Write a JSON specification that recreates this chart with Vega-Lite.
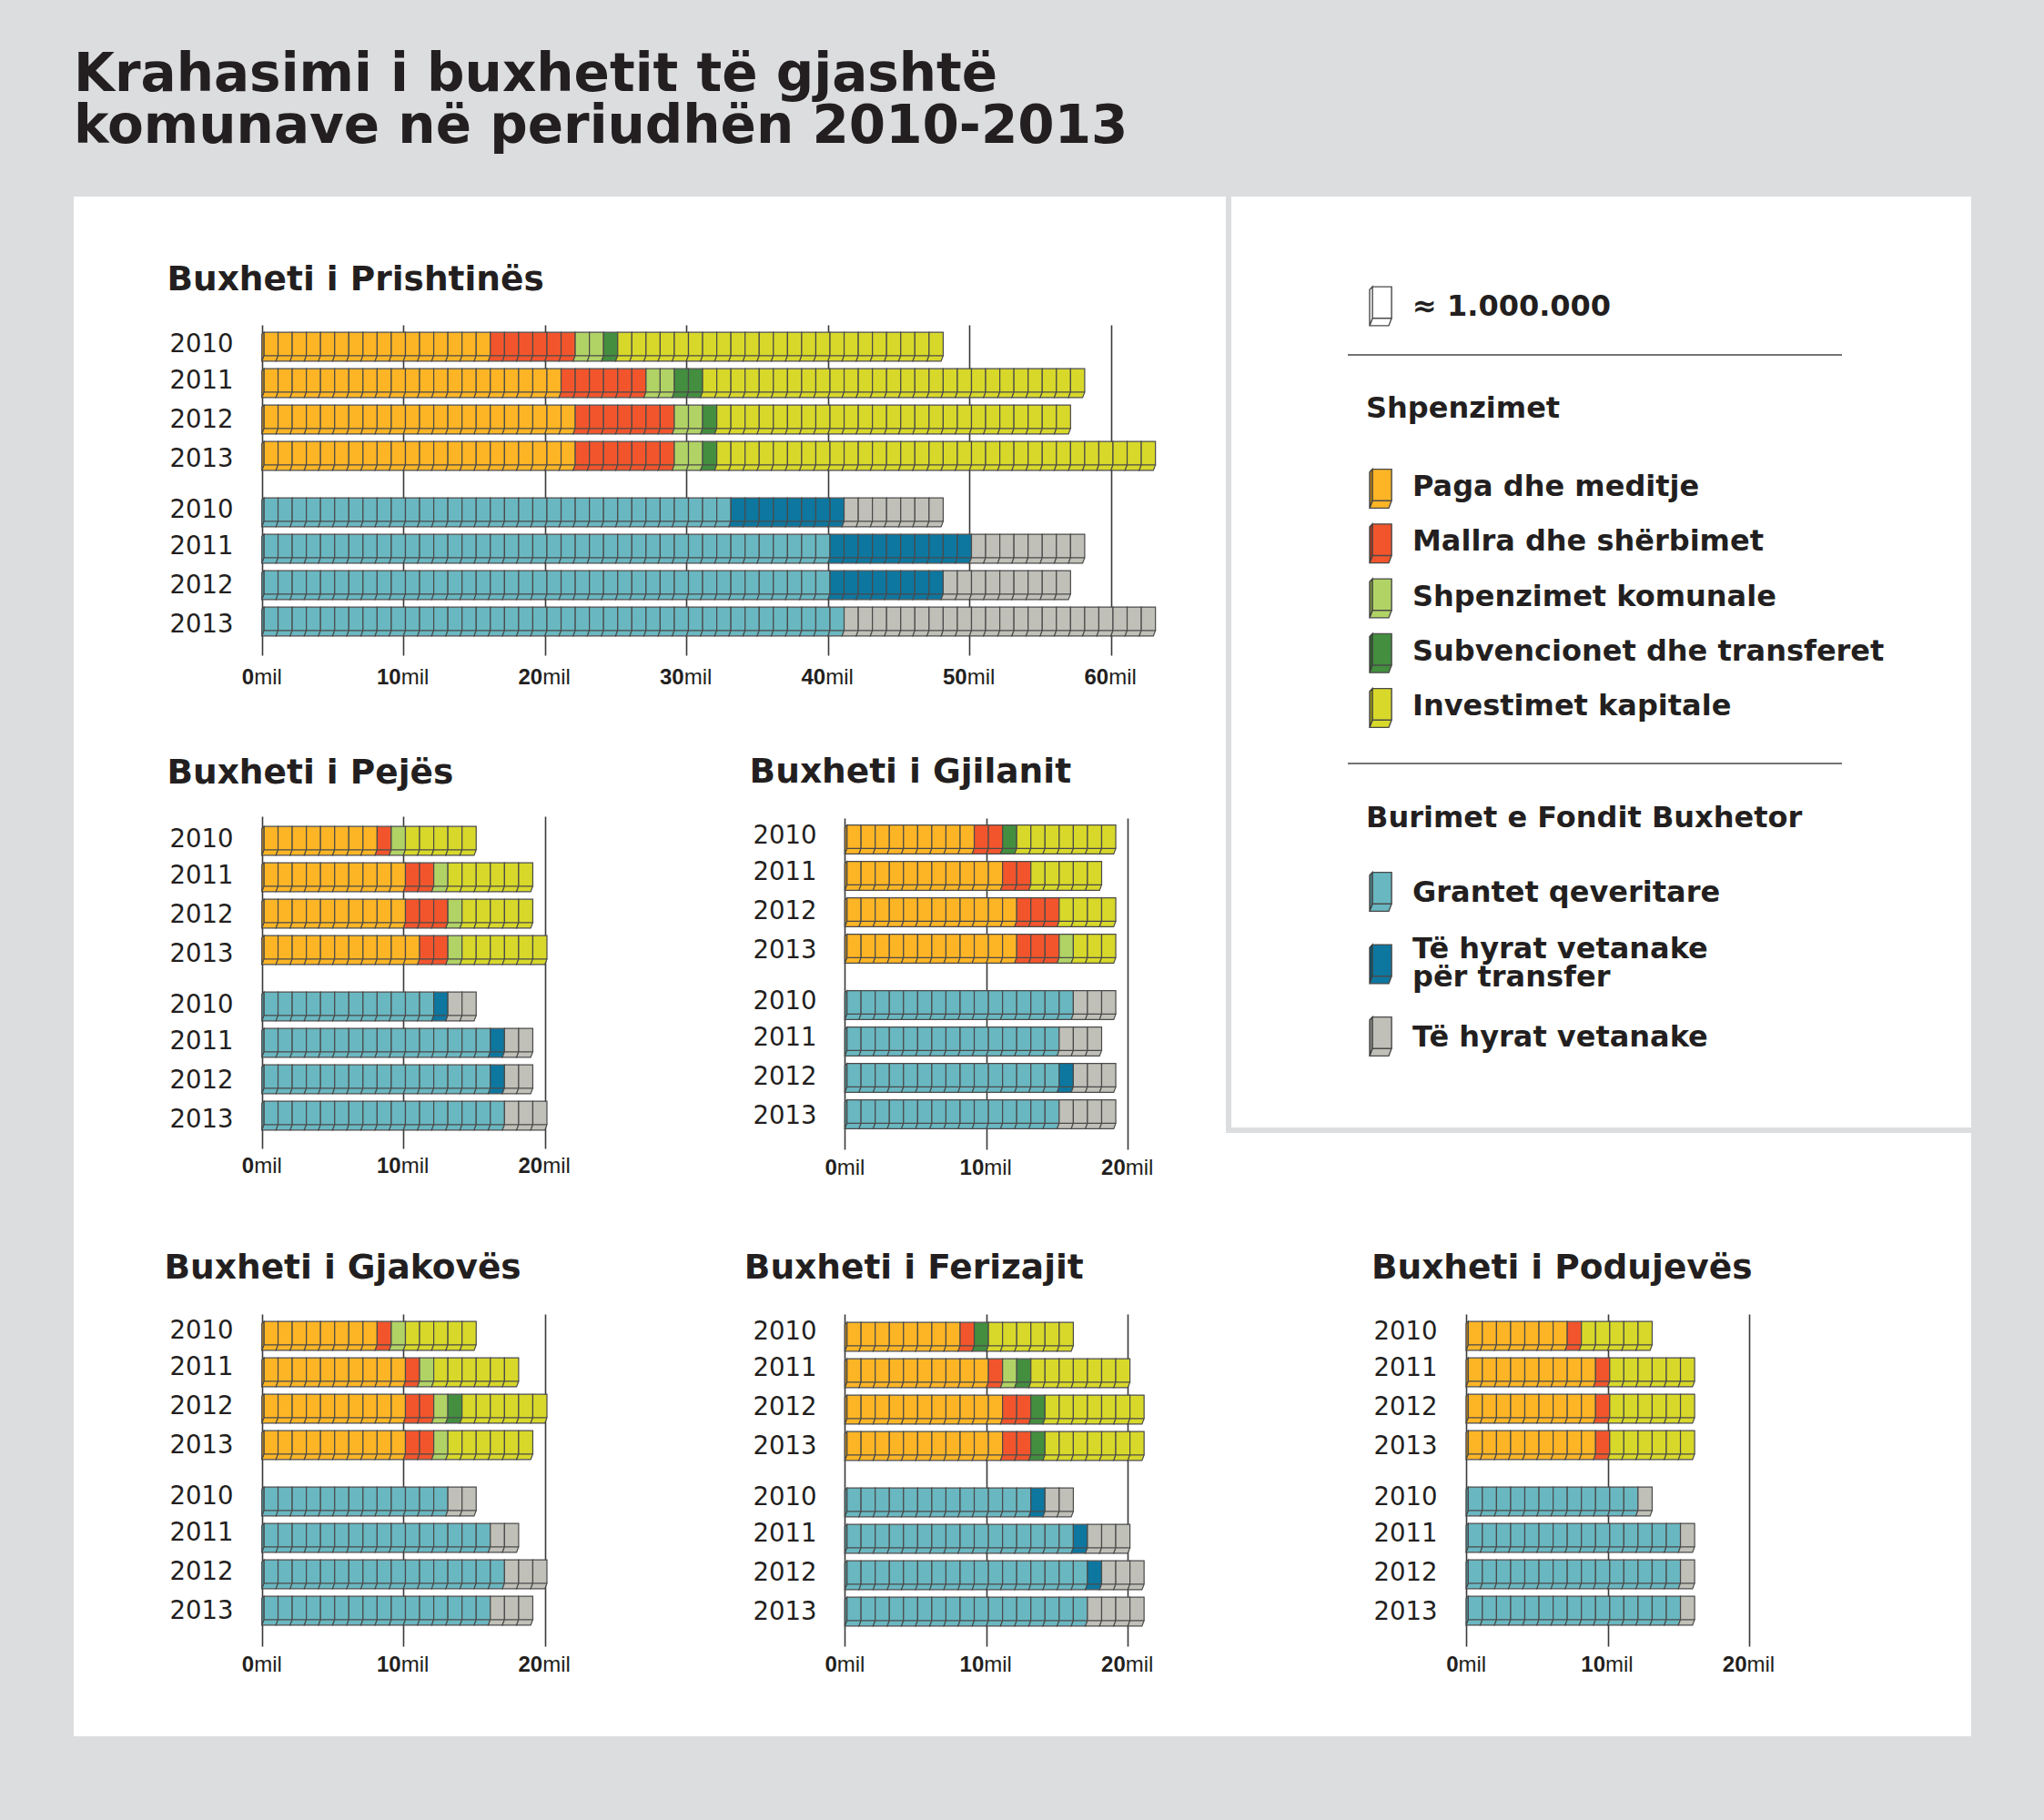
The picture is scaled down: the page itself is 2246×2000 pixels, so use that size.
{"$schema":"https://vega.github.io/schema/vega-lite/v6.json","background":"#DCDDDF","padding":{"left":81,"right":80,"top":0,"bottom":92},"config":{"concat":{"spacing":0},"view":{"stroke":null},"range":{"category":["#69B7C1","#D8D82A","#B1D365","#F2552C","#FDB525","#438E3F","#0D77A0","#C0C0B8"]},"axis":{"domain":false,"grid":false,"labelOverlap":false,"labelFlush":false,"labelBound":false},"axisX":{"labelFont":"Liberation Sans","labelFontSize":24,"labelColor":"#231F20","tickColor":"#3A3A3A","tickWidth":1.6,"labelOffset":{"condition":{"test":"datum.value==0","value":-9},"value":-3}},"axisY":{"ticks":false,"labelPadding":0,"labelFont":"DejaVu Sans","labelFontSize":27.5,"labelColor":"#231F20","labelAlign":"right","labelBaseline":"middle"},"title":{"font":"DejaVu Sans","fontWeight":"bold","fontSize":37.5,"color":"#231F20","anchor":"start","frame":"group","baseline":"alphabetic"},"text":{"font":"DejaVu Sans","fontWeight":"bold","color":"#231F20","baseline":"middle","align":"left"}},
"datasets":{"units":[{"side":"S","unit":[0,1,2,3,4,5,6,7,8,9,10,11,12,13,14,15,16,17,18,19,20,21,22,23,24,25,26,27,28,29,30,31,32,33,34,35,36,37,38,39,40,41,42,43,44,45,46,47,48,49,50,51,52,53,54,55,56,57,58,59,60,61,62,63,64]},{"side":"B","unit":[0,1,2,3,4,5,6,7,8,9,10,11,12,13,14,15,16,17,18,19,20,21,22,23,24,25,26,27,28,29,30,31,32,33,34,35,36,37,38,39,40,41,42,43,44,45,46,47,48,49,50,51,52,53,54,55,56,57,58,59,60,61,62,63,64]}],
"Pr":[{"side":"S","year":"2010","cat":"Paga","val":16},{"side":"S","year":"2010","cat":"Mallra","val":6},{"side":"S","year":"2010","cat":"Komunale","val":2},{"side":"S","year":"2010","cat":"Subvencione","val":1},{"side":"S","year":"2010","cat":"Investime","val":23},{"side":"S","year":"2011","cat":"Paga","val":21},{"side":"S","year":"2011","cat":"Mallra","val":6},{"side":"S","year":"2011","cat":"Komunale","val":2},{"side":"S","year":"2011","cat":"Subvencione","val":2},{"side":"S","year":"2011","cat":"Investime","val":27},{"side":"S","year":"2012","cat":"Paga","val":22},{"side":"S","year":"2012","cat":"Mallra","val":7},{"side":"S","year":"2012","cat":"Komunale","val":2},{"side":"S","year":"2012","cat":"Subvencione","val":1},{"side":"S","year":"2012","cat":"Investime","val":25},{"side":"S","year":"2013","cat":"Paga","val":22},{"side":"S","year":"2013","cat":"Mallra","val":7},{"side":"S","year":"2013","cat":"Komunale","val":2},{"side":"S","year":"2013","cat":"Subvencione","val":1},{"side":"S","year":"2013","cat":"Investime","val":31},{"side":"B","year":"2010","cat":"Grante","val":33},{"side":"B","year":"2010","cat":"Transfer","val":8},{"side":"B","year":"2010","cat":"Vetanake","val":7},{"side":"B","year":"2011","cat":"Grante","val":40},{"side":"B","year":"2011","cat":"Transfer","val":10},{"side":"B","year":"2011","cat":"Vetanake","val":8},{"side":"B","year":"2012","cat":"Grante","val":40},{"side":"B","year":"2012","cat":"Transfer","val":8},{"side":"B","year":"2012","cat":"Vetanake","val":9},{"side":"B","year":"2013","cat":"Grante","val":41},{"side":"B","year":"2013","cat":"Vetanake","val":22}],
"Pe":[{"side":"S","year":"2010","cat":"Paga","val":8},{"side":"S","year":"2010","cat":"Mallra","val":1},{"side":"S","year":"2010","cat":"Komunale","val":1},{"side":"S","year":"2010","cat":"Investime","val":5},{"side":"S","year":"2011","cat":"Paga","val":10},{"side":"S","year":"2011","cat":"Mallra","val":2},{"side":"S","year":"2011","cat":"Komunale","val":1},{"side":"S","year":"2011","cat":"Investime","val":6},{"side":"S","year":"2012","cat":"Paga","val":10},{"side":"S","year":"2012","cat":"Mallra","val":3},{"side":"S","year":"2012","cat":"Komunale","val":1},{"side":"S","year":"2012","cat":"Investime","val":5},{"side":"S","year":"2013","cat":"Paga","val":11},{"side":"S","year":"2013","cat":"Mallra","val":2},{"side":"S","year":"2013","cat":"Komunale","val":1},{"side":"S","year":"2013","cat":"Investime","val":6},{"side":"B","year":"2010","cat":"Grante","val":12},{"side":"B","year":"2010","cat":"Transfer","val":1},{"side":"B","year":"2010","cat":"Vetanake","val":2},{"side":"B","year":"2011","cat":"Grante","val":16},{"side":"B","year":"2011","cat":"Transfer","val":1},{"side":"B","year":"2011","cat":"Vetanake","val":2},{"side":"B","year":"2012","cat":"Grante","val":16},{"side":"B","year":"2012","cat":"Transfer","val":1},{"side":"B","year":"2012","cat":"Vetanake","val":2},{"side":"B","year":"2013","cat":"Grante","val":17},{"side":"B","year":"2013","cat":"Vetanake","val":3}],
"Gj":[{"side":"S","year":"2010","cat":"Paga","val":9},{"side":"S","year":"2010","cat":"Mallra","val":2},{"side":"S","year":"2010","cat":"Subvencione","val":1},{"side":"S","year":"2010","cat":"Investime","val":7},{"side":"S","year":"2011","cat":"Paga","val":11},{"side":"S","year":"2011","cat":"Mallra","val":2},{"side":"S","year":"2011","cat":"Investime","val":5},{"side":"S","year":"2012","cat":"Paga","val":12},{"side":"S","year":"2012","cat":"Mallra","val":3},{"side":"S","year":"2012","cat":"Investime","val":4},{"side":"S","year":"2013","cat":"Paga","val":12},{"side":"S","year":"2013","cat":"Mallra","val":3},{"side":"S","year":"2013","cat":"Komunale","val":1},{"side":"S","year":"2013","cat":"Investime","val":3},{"side":"B","year":"2010","cat":"Grante","val":16},{"side":"B","year":"2010","cat":"Vetanake","val":3},{"side":"B","year":"2011","cat":"Grante","val":15},{"side":"B","year":"2011","cat":"Vetanake","val":3},{"side":"B","year":"2012","cat":"Grante","val":15},{"side":"B","year":"2012","cat":"Transfer","val":1},{"side":"B","year":"2012","cat":"Vetanake","val":3},{"side":"B","year":"2013","cat":"Grante","val":15},{"side":"B","year":"2013","cat":"Vetanake","val":4}],
"Gk":[{"side":"S","year":"2010","cat":"Paga","val":8},{"side":"S","year":"2010","cat":"Mallra","val":1},{"side":"S","year":"2010","cat":"Komunale","val":1},{"side":"S","year":"2010","cat":"Investime","val":5},{"side":"S","year":"2011","cat":"Paga","val":10},{"side":"S","year":"2011","cat":"Mallra","val":1},{"side":"S","year":"2011","cat":"Komunale","val":1},{"side":"S","year":"2011","cat":"Investime","val":6},{"side":"S","year":"2012","cat":"Paga","val":10},{"side":"S","year":"2012","cat":"Mallra","val":2},{"side":"S","year":"2012","cat":"Komunale","val":1},{"side":"S","year":"2012","cat":"Subvencione","val":1},{"side":"S","year":"2012","cat":"Investime","val":6},{"side":"S","year":"2013","cat":"Paga","val":10},{"side":"S","year":"2013","cat":"Mallra","val":2},{"side":"S","year":"2013","cat":"Komunale","val":1},{"side":"S","year":"2013","cat":"Investime","val":6},{"side":"B","year":"2010","cat":"Grante","val":13},{"side":"B","year":"2010","cat":"Vetanake","val":2},{"side":"B","year":"2011","cat":"Grante","val":16},{"side":"B","year":"2011","cat":"Vetanake","val":2},{"side":"B","year":"2012","cat":"Grante","val":17},{"side":"B","year":"2012","cat":"Vetanake","val":3},{"side":"B","year":"2013","cat":"Grante","val":16},{"side":"B","year":"2013","cat":"Vetanake","val":3}],
"Fe":[{"side":"S","year":"2010","cat":"Paga","val":8},{"side":"S","year":"2010","cat":"Mallra","val":1},{"side":"S","year":"2010","cat":"Subvencione","val":1},{"side":"S","year":"2010","cat":"Investime","val":6},{"side":"S","year":"2011","cat":"Paga","val":10},{"side":"S","year":"2011","cat":"Mallra","val":1},{"side":"S","year":"2011","cat":"Komunale","val":1},{"side":"S","year":"2011","cat":"Subvencione","val":1},{"side":"S","year":"2011","cat":"Investime","val":7},{"side":"S","year":"2012","cat":"Paga","val":11},{"side":"S","year":"2012","cat":"Mallra","val":2},{"side":"S","year":"2012","cat":"Subvencione","val":1},{"side":"S","year":"2012","cat":"Investime","val":7},{"side":"S","year":"2013","cat":"Paga","val":11},{"side":"S","year":"2013","cat":"Mallra","val":2},{"side":"S","year":"2013","cat":"Subvencione","val":1},{"side":"S","year":"2013","cat":"Investime","val":7},{"side":"B","year":"2010","cat":"Grante","val":13},{"side":"B","year":"2010","cat":"Transfer","val":1},{"side":"B","year":"2010","cat":"Vetanake","val":2},{"side":"B","year":"2011","cat":"Grante","val":16},{"side":"B","year":"2011","cat":"Transfer","val":1},{"side":"B","year":"2011","cat":"Vetanake","val":3},{"side":"B","year":"2012","cat":"Grante","val":17},{"side":"B","year":"2012","cat":"Transfer","val":1},{"side":"B","year":"2012","cat":"Vetanake","val":3},{"side":"B","year":"2013","cat":"Grante","val":17},{"side":"B","year":"2013","cat":"Vetanake","val":4}],
"Po":[{"side":"S","year":"2010","cat":"Paga","val":7},{"side":"S","year":"2010","cat":"Mallra","val":1},{"side":"S","year":"2010","cat":"Investime","val":5},{"side":"S","year":"2011","cat":"Paga","val":9},{"side":"S","year":"2011","cat":"Mallra","val":1},{"side":"S","year":"2011","cat":"Investime","val":6},{"side":"S","year":"2012","cat":"Paga","val":9},{"side":"S","year":"2012","cat":"Mallra","val":1},{"side":"S","year":"2012","cat":"Investime","val":6},{"side":"S","year":"2013","cat":"Paga","val":9},{"side":"S","year":"2013","cat":"Mallra","val":1},{"side":"S","year":"2013","cat":"Investime","val":6},{"side":"B","year":"2010","cat":"Grante","val":12},{"side":"B","year":"2010","cat":"Vetanake","val":1},{"side":"B","year":"2011","cat":"Grante","val":15},{"side":"B","year":"2011","cat":"Vetanake","val":1},{"side":"B","year":"2012","cat":"Grante","val":15},{"side":"B","year":"2012","cat":"Vetanake","val":1},{"side":"B","year":"2013","cat":"Grante","val":15},{"side":"B","year":"2013","cat":"Vetanake","val":1}],
"legendS":[{"cat":"Paga","label":"Paga dhe meditje"},{"cat":"Mallra","label":"Mallra dhe shërbimet"},{"cat":"Komunale","label":"Shpenzimet komunale"},{"cat":"Subvencione","label":"Subvencionet dhe transferet"},{"cat":"Investime","label":"Investimet kapitale"}],
"legendB":[{"cat":"Grante","label":"Grantet qeveritare"},{"cat":"Transfer","label":"Të hyrat vetanake\npër transfer"},{"cat":"Vetanake","label":"Të hyrat vetanake"}]},
"spacing":0,"vconcat":[
{"width":2085,"height":216,"data":{"values":[{"line":"Krahasimi i buxhetit të gjashtë"},{"line":"komunave në periudhën 2010-2013"}]},"mark":{"type":"text","fontSize":58},"encoding":{"text":{"field":"line"},"x":{"datum":"t","scale":{"type":"point","domain":["t"],"range":[0,0],"padding":0},"axis":null},"y":{"field":"line","type":"nominal","sort":null,"title":null,"scale":{"type":"point","padding":0,"range":[83,140]},"axis":null}}},
{"spacing":0,"hconcat":[
{"spacing":0,"vconcat":[
{"width":1266,"height":584,"view":{"fill":"white","stroke":null},"title":{"text":"Buxheti i Prishtinës","offset":-110,"dx":102.4},"data":{"name":"Pr"},"transform":[{"stack":"val","groupby":["side","year"],"as":["start","end"]},{"lookup":"side","from":{"data":{"name":"units"},"key":"side","fields":["unit"]}},{"flatten":["unit"]},{"filter":"datum.unit>=datum.start&&datum.unit<datum.end"}],"resolve":{"scale":{"x":"independent","y":"independent"}},"layer":[
{"transform":[{"filter":"datum.side=='S'"}],"encoding":{"x":{"field":"unit","type":"quantitative","title":null,"scale":{"domain":[0,65],"range":[206.7,1217.45],"nice":false,"zero":false},"axis":{"orient":"bottom","values":[0,10,20,30,40,50,60],"offset":-443,"tickSize":363,"labelPadding":12,"labelFontWeight":"bold","labelAlign":"right"}},"y":{"field":"year","type":"nominal","title":null,"scale":{"type":"point","padding":0,"range":[165,285]},"axis":{"orient":"left","offset":-175,"labelOffset":{"condition":[{"test":"datum.value=='2012'","value":0},{"test":"datum.value=='2013'","value":3.5}],"value":-3}}}},"layer":[{"mark":{"type":"point","shape":"M2.3 -15.85H17.85V9.85H2.3ZM2.3 9.85H17.85L15.55 15.85H0Z","size":4,"filled":true,"opacity":1,"stroke":"#4A4A4A","strokeWidth":1.2},"encoding":{"color":{"field":"cat","type":"nominal","legend":null}}},{"transform":[{"filter":"datum.unit==0"}],"mark":{"type":"point","shape":"M2.3 -15.85L0 -13.5V15.85L2.3 9.85Z","size":4,"filled":true,"opacity":1,"fill":"#C48A1E","stroke":"#4A4A4A","strokeWidth":1.2}}]},
{"transform":[{"filter":"datum.side=='B'"}],"encoding":{"x":{"field":"unit","type":"quantitative","title":null,"scale":{"domain":[0,65],"range":[206.7,1217.45],"nice":false,"zero":false},"axis":{"orient":"bottom","values":[0,10,20,30,40,50,60],"offset":-443,"tickSize":363,"tickOpacity":0,"labelPadding":12,"labelExpr":"'mil'","labelAlign":"left"}},"y":{"field":"year","type":"nominal","title":null,"scale":{"type":"point","padding":0,"range":[347,467]},"axis":{"orient":"left","offset":-175,"labelOffset":{"condition":[{"test":"datum.value=='2012'","value":0},{"test":"datum.value=='2013'","value":3.5}],"value":-3}}}},"layer":[{"mark":{"type":"point","shape":"M2.3 -15.85H17.85V9.85H2.3ZM2.3 9.85H17.85L15.55 15.85H0Z","size":4,"filled":true,"opacity":1,"stroke":"#4A4A4A","strokeWidth":1.2},"encoding":{"color":{"field":"cat","type":"nominal","legend":null}}},{"transform":[{"filter":"datum.unit==0"}],"mark":{"type":"point","shape":"M2.3 -15.85L0 -13.5V15.85L2.3 9.85Z","size":4,"filled":true,"opacity":1,"fill":"#4E929C","stroke":"#4A4A4A","strokeWidth":1.2}}]}]},
{"spacing":0,"hconcat":[
{"width":639,"height":520,"view":{"fill":"white","stroke":null},"title":{"text":"Buxheti i Pejës","offset":-68,"dx":102.4},"data":{"name":"Pe"},"transform":[{"stack":"val","groupby":["side","year"],"as":["start","end"]},{"lookup":"side","from":{"data":{"name":"units"},"key":"side","fields":["unit"]}},{"flatten":["unit"]},{"filter":"datum.unit>=datum.start&&datum.unit<datum.end"}],"resolve":{"scale":{"x":"independent","y":"independent"}},"layer":[
{"transform":[{"filter":"datum.side=='S'"}],"encoding":{"x":{"field":"unit","type":"quantitative","title":null,"scale":{"domain":[0,22],"range":[206.7,548.8],"nice":false,"zero":false},"axis":{"orient":"bottom","values":[0,10,20],"offset":-423,"tickSize":365,"labelPadding":7,"labelFontWeight":"bold","labelAlign":"right"}},"y":{"field":"year","type":"nominal","title":null,"scale":{"type":"point","padding":0,"range":[124,244]},"axis":{"orient":"left","offset":-175,"labelOffset":{"condition":[{"test":"datum.value=='2012'","value":1},{"test":"datum.value=='2013'","value":4.5}],"value":-2}}}},"layer":[{"mark":{"type":"point","shape":"M2.3 -15.85H17.85V9.85H2.3ZM2.3 9.85H17.85L15.55 15.85H0Z","size":4,"filled":true,"opacity":1,"stroke":"#4A4A4A","strokeWidth":1.2},"encoding":{"color":{"field":"cat","type":"nominal","legend":null}}},{"transform":[{"filter":"datum.unit==0"}],"mark":{"type":"point","shape":"M2.3 -15.85L0 -13.5V15.85L2.3 9.85Z","size":4,"filled":true,"opacity":1,"fill":"#C48A1E","stroke":"#4A4A4A","strokeWidth":1.2}}]},
{"transform":[{"filter":"datum.side=='B'"}],"encoding":{"x":{"field":"unit","type":"quantitative","title":null,"scale":{"domain":[0,22],"range":[206.7,548.8],"nice":false,"zero":false},"axis":{"orient":"bottom","values":[0,10,20],"offset":-423,"tickSize":365,"tickOpacity":0,"labelPadding":7,"labelExpr":"'mil'","labelAlign":"left"}},"y":{"field":"year","type":"nominal","title":null,"scale":{"type":"point","padding":0,"range":[306,426]},"axis":{"orient":"left","offset":-175,"labelOffset":{"condition":[{"test":"datum.value=='2012'","value":1},{"test":"datum.value=='2013'","value":4.5}],"value":-2}}}},"layer":[{"mark":{"type":"point","shape":"M2.3 -15.85H17.85V9.85H2.3ZM2.3 9.85H17.85L15.55 15.85H0Z","size":4,"filled":true,"opacity":1,"stroke":"#4A4A4A","strokeWidth":1.2},"encoding":{"color":{"field":"cat","type":"nominal","legend":null}}},{"transform":[{"filter":"datum.unit==0"}],"mark":{"type":"point","shape":"M2.3 -15.85L0 -13.5V15.85L2.3 9.85Z","size":4,"filled":true,"opacity":1,"fill":"#4E929C","stroke":"#4A4A4A","strokeWidth":1.2}}]}]},
{"width":627,"height":520,"view":{"fill":"white","stroke":null},"title":{"text":"Buxheti i Gjilanit","offset":-67,"dx":103.6},"data":{"name":"Gj"},"transform":[{"stack":"val","groupby":["side","year"],"as":["start","end"]},{"lookup":"side","from":{"data":{"name":"units"},"key":"side","fields":["unit"]}},{"flatten":["unit"]},{"filter":"datum.unit>=datum.start&&datum.unit<datum.end"}],"resolve":{"scale":{"x":"independent","y":"independent"}},"layer":[
{"transform":[{"filter":"datum.side=='S'"}],"encoding":{"x":{"field":"unit","type":"quantitative","title":null,"scale":{"domain":[0,22],"range":[208.3,550.4],"nice":false,"zero":false},"axis":{"orient":"bottom","values":[0,10,20],"offset":-421,"tickSize":364,"labelPadding":8,"labelFontWeight":"bold","labelAlign":"right"}},"y":{"field":"year","type":"nominal","title":null,"scale":{"type":"point","padding":0,"range":[122.5,242.5]},"axis":{"orient":"left","offset":-177,"labelOffset":{"condition":[{"test":"datum.value=='2012'","value":-1.5},{"test":"datum.value=='2013'","value":2}],"value":-4.5}}}},"layer":[{"mark":{"type":"point","shape":"M2.3 -15.85H17.85V9.85H2.3ZM2.3 9.85H17.85L15.55 15.85H0Z","size":4,"filled":true,"opacity":1,"stroke":"#4A4A4A","strokeWidth":1.2},"encoding":{"color":{"field":"cat","type":"nominal","legend":null}}},{"transform":[{"filter":"datum.unit==0"}],"mark":{"type":"point","shape":"M2.3 -15.85L0 -13.5V15.85L2.3 9.85Z","size":4,"filled":true,"opacity":1,"fill":"#C48A1E","stroke":"#4A4A4A","strokeWidth":1.2}}]},
{"transform":[{"filter":"datum.side=='B'"}],"encoding":{"x":{"field":"unit","type":"quantitative","title":null,"scale":{"domain":[0,22],"range":[208.3,550.4],"nice":false,"zero":false},"axis":{"orient":"bottom","values":[0,10,20],"offset":-421,"tickSize":364,"tickOpacity":0,"labelPadding":8,"labelExpr":"'mil'","labelAlign":"left"}},"y":{"field":"year","type":"nominal","title":null,"scale":{"type":"point","padding":0,"range":[304.5,424.5]},"axis":{"orient":"left","offset":-177,"labelOffset":{"condition":[{"test":"datum.value=='2012'","value":-1.5},{"test":"datum.value=='2013'","value":2}],"value":-4.5}}}},"layer":[{"mark":{"type":"point","shape":"M2.3 -15.85H17.85V9.85H2.3ZM2.3 9.85H17.85L15.55 15.85H0Z","size":4,"filled":true,"opacity":1,"stroke":"#4A4A4A","strokeWidth":1.2},"encoding":{"color":{"field":"cat","type":"nominal","legend":null}}},{"transform":[{"filter":"datum.unit==0"}],"mark":{"type":"point","shape":"M2.3 -15.85L0 -13.5V15.85L2.3 9.85Z","size":4,"filled":true,"opacity":1,"fill":"#4E929C","stroke":"#4A4A4A","strokeWidth":1.2}}]}]}]}]},
{"width":819,"height":1104,"view":{"fill":"white","stroke":null},"resolve":{"scale":{"x":"independent","y":"independent"}},"layer":[
{"data":{"values":[{"from":0,"to":1}]},"mark":{"type":"rect","fill":"#DCDDDF"},"encoding":{"x":{"field":"from","type":"quantitative","title":null,"scale":{"domain":[0,1],"range":[0,6],"nice":false,"zero":false},"axis":null},"x2":{"field":"to"},"y":{"field":"from","type":"quantitative","title":null,"scale":{"domain":[0,1],"range":[0,1029],"nice":false,"zero":false},"axis":null},"y2":{"field":"to"}}},
{"data":{"values":[{"from":0,"to":1}]},"mark":{"type":"rect","fill":"#DCDDDF"},"encoding":{"x":{"field":"from","type":"quantitative","title":null,"scale":{"domain":[0,1],"range":[0,819],"nice":false,"zero":false},"axis":null},"x2":{"field":"to"},"y":{"field":"from","type":"quantitative","title":null,"scale":{"domain":[0,1],"range":[1023,1029],"nice":false,"zero":false},"axis":null},"y2":{"field":"to"}}},
{"data":{"values":[{"label":"≈ 1.000.000"}]},"encoding":{"y":{"field":"label","type":"nominal","title":null,"scale":{"type":"point","padding":0,"range":[120,121]},"axis":null}},"layer":[{"mark":{"type":"point","shape":"M2.3 -15.85H17.85V9.85H2.3ZM2.3 9.85H17.85L15.55 15.85H0ZM2.3 -15.85L0 -13.5V15.85L2.3 9.85Z","size":7.3,"filled":true,"opacity":1,"fill":"white","stroke":"#4A4A4A","strokeWidth":1.4},"encoding":{"x":{"datum":"icon","scale":{"type":"point","domain":["icon","text"],"range":[158,205],"padding":0},"axis":null}}},{"mark":{"type":"text","fontSize":32},"encoding":{"text":{"field":"label"},"x":{"datum":"text","scale":{"type":"point","domain":["icon","text"],"range":[158,205],"padding":0},"axis":null}}}]},
{"data":{"values":[{"pos":"a","from":0,"to":1},{"pos":"b","from":0,"to":1}]},"mark":{"type":"rule","stroke":"#444444","strokeWidth":1.5},"encoding":{"x":{"field":"from","type":"quantitative","title":null,"scale":{"domain":[0,1],"range":[134,677],"nice":false,"zero":false},"axis":null},"x2":{"field":"to"},"y":{"field":"pos","type":"nominal","title":null,"scale":{"type":"point","padding":0,"range":[174,623]},"axis":null}}},
{"data":{"values":[{"label":"Shpenzimet"},{"label":"Burimet e Fondit Buxhetor"}]},"mark":{"type":"text","fontSize":32},"encoding":{"text":{"field":"label"},"x":{"datum":"h","scale":{"type":"point","domain":["h"],"range":[154,154],"padding":0},"axis":null},"y":{"field":"label","type":"nominal","sort":null,"title":null,"scale":{"type":"point","padding":0,"range":[233,683]},"axis":null}}},
{"data":{"name":"legendS"},"encoding":{"y":{"field":"label","type":"nominal","sort":null,"title":null,"scale":{"type":"point","padding":0,"range":[321,562]},"axis":null}},"layer":[{"mark":{"type":"point","shape":"M2.3 -15.85H17.85V9.85H2.3ZM2.3 9.85H17.85L15.55 15.85H0ZM2.3 -15.85L0 -13.5V15.85L2.3 9.85Z","size":7.3,"filled":true,"opacity":1,"stroke":"#4A4A4A","strokeWidth":1.4},"encoding":{"color":{"field":"cat","type":"nominal","legend":null},"x":{"datum":"icon","scale":{"type":"point","domain":["icon","text"],"range":[158,205],"padding":0},"axis":null}}},{"mark":{"type":"point","shape":"M2.3 -15.85L0 -13.5V15.85L2.3 9.85Z","size":7.3,"filled":true,"opacity":0.25,"fill":"#000000","strokeWidth":0},"encoding":{"x":{"datum":"icon","scale":{"type":"point","domain":["icon","text"],"range":[158,205],"padding":0},"axis":null}}},{"mark":{"type":"text","fontSize":32,"dy":-2},"encoding":{"text":{"field":"label"},"x":{"datum":"text","scale":{"type":"point","domain":["icon","text"],"range":[158,205],"padding":0},"axis":null}}}]},
{"data":{"name":"legendB"},"encoding":{"y":{"field":"label","type":"nominal","sort":null,"title":null,"scale":{"type":"point","padding":0,"range":[764,923]},"axis":null}},"layer":[{"mark":{"type":"point","shape":"M2.3 -15.85H17.85V9.85H2.3ZM2.3 9.85H17.85L15.55 15.85H0ZM2.3 -15.85L0 -13.5V15.85L2.3 9.85Z","size":7.3,"filled":true,"opacity":1,"stroke":"#4A4A4A","strokeWidth":1.4},"encoding":{"color":{"field":"cat","type":"nominal","legend":null},"x":{"datum":"icon","scale":{"type":"point","domain":["icon","text"],"range":[158,205],"padding":0},"axis":null}}},{"mark":{"type":"point","shape":"M2.3 -15.85L0 -13.5V15.85L2.3 9.85Z","size":7.3,"filled":true,"opacity":0.25,"fill":"#000000","strokeWidth":0},"encoding":{"x":{"datum":"icon","scale":{"type":"point","domain":["icon","text"],"range":[158,205],"padding":0},"axis":null}}},{"transform":[{"filter":"datum.cat!='Transfer'"}],"mark":{"type":"text","fontSize":32,"dy":1},"encoding":{"text":{"field":"label"},"x":{"datum":"text","scale":{"type":"point","domain":["icon","text"],"range":[158,205],"padding":0},"axis":null}}},{"transform":[{"filter":"datum.cat=='Transfer'"}],"mark":{"type":"text","fontSize":32,"dy":-17,"lineBreak":"\n","lineHeight":31},"encoding":{"text":{"field":"label"},"x":{"datum":"text","scale":{"type":"point","domain":["icon","text"],"range":[158,205],"padding":0},"axis":null}}}]}]}]},
{"spacing":0,"hconcat":[
{"width":639,"height":588,"view":{"fill":"white","stroke":null},"title":{"text":"Buxheti i Gjakovës","offset":-92.7,"dx":99.5},"data":{"name":"Gk"},"transform":[{"stack":"val","groupby":["side","year"],"as":["start","end"]},{"lookup":"side","from":{"data":{"name":"units"},"key":"side","fields":["unit"]}},{"flatten":["unit"]},{"filter":"datum.unit>=datum.start&&datum.unit<datum.end"}],"resolve":{"scale":{"x":"independent","y":"independent"}},"layer":[
{"transform":[{"filter":"datum.side=='S'"}],"encoding":{"x":{"field":"unit","type":"quantitative","title":null,"scale":{"domain":[0,22],"range":[206.7,548.8],"nice":false,"zero":false},"axis":{"orient":"bottom","values":[0,10,20],"offset":-464,"tickSize":365,"labelPadding":8,"labelFontWeight":"bold","labelAlign":"right"}},"y":{"field":"year","type":"nominal","title":null,"scale":{"type":"point","padding":0,"range":[148,268]},"axis":{"orient":"left","offset":-175,"labelOffset":{"condition":[{"test":"datum.value=='2012'","value":-3},{"test":"datum.value=='2013'","value":0.5}],"value":-6}}}},"layer":[{"mark":{"type":"point","shape":"M2.3 -15.85H17.85V9.85H2.3ZM2.3 9.85H17.85L15.55 15.85H0Z","size":4,"filled":true,"opacity":1,"stroke":"#4A4A4A","strokeWidth":1.2},"encoding":{"color":{"field":"cat","type":"nominal","legend":null}}},{"transform":[{"filter":"datum.unit==0"}],"mark":{"type":"point","shape":"M2.3 -15.85L0 -13.5V15.85L2.3 9.85Z","size":4,"filled":true,"opacity":1,"fill":"#C48A1E","stroke":"#4A4A4A","strokeWidth":1.2}}]},
{"transform":[{"filter":"datum.side=='B'"}],"encoding":{"x":{"field":"unit","type":"quantitative","title":null,"scale":{"domain":[0,22],"range":[206.7,548.8],"nice":false,"zero":false},"axis":{"orient":"bottom","values":[0,10,20],"offset":-464,"tickSize":365,"tickOpacity":0,"labelPadding":8,"labelExpr":"'mil'","labelAlign":"left"}},"y":{"field":"year","type":"nominal","title":null,"scale":{"type":"point","padding":0,"range":[330,450]},"axis":{"orient":"left","offset":-175,"labelOffset":{"condition":[{"test":"datum.value=='2012'","value":-3},{"test":"datum.value=='2013'","value":0.5}],"value":-6}}}},"layer":[{"mark":{"type":"point","shape":"M2.3 -15.85H17.85V9.85H2.3ZM2.3 9.85H17.85L15.55 15.85H0Z","size":4,"filled":true,"opacity":1,"stroke":"#4A4A4A","strokeWidth":1.2},"encoding":{"color":{"field":"cat","type":"nominal","legend":null}}},{"transform":[{"filter":"datum.unit==0"}],"mark":{"type":"point","shape":"M2.3 -15.85L0 -13.5V15.85L2.3 9.85Z","size":4,"filled":true,"opacity":1,"fill":"#4E929C","stroke":"#4A4A4A","strokeWidth":1.2}}]}]},
{"width":680,"height":588,"view":{"fill":"white","stroke":null},"title":{"text":"Buxheti i Ferizajit","offset":-92.7,"dx":97.8},"data":{"name":"Fe"},"transform":[{"stack":"val","groupby":["side","year"],"as":["start","end"]},{"lookup":"side","from":{"data":{"name":"units"},"key":"side","fields":["unit"]}},{"flatten":["unit"]},{"filter":"datum.unit>=datum.start&&datum.unit<datum.end"}],"resolve":{"scale":{"x":"independent","y":"independent"}},"layer":[
{"transform":[{"filter":"datum.side=='S'"}],"encoding":{"x":{"field":"unit","type":"quantitative","title":null,"scale":{"domain":[0,22],"range":[208.3,550.4],"nice":false,"zero":false},"axis":{"orient":"bottom","values":[0,10,20],"offset":-464,"tickSize":365,"labelPadding":8,"labelFontWeight":"bold","labelAlign":"right"}},"y":{"field":"year","type":"nominal","title":null,"scale":{"type":"point","padding":0,"range":[149,269]},"axis":{"orient":"left","offset":-177,"labelOffset":{"condition":[{"test":"datum.value=='2012'","value":-3},{"test":"datum.value=='2013'","value":0.5}],"value":-6}}}},"layer":[{"mark":{"type":"point","shape":"M2.3 -15.85H17.85V9.85H2.3ZM2.3 9.85H17.85L15.55 15.85H0Z","size":4,"filled":true,"opacity":1,"stroke":"#4A4A4A","strokeWidth":1.2},"encoding":{"color":{"field":"cat","type":"nominal","legend":null}}},{"transform":[{"filter":"datum.unit==0"}],"mark":{"type":"point","shape":"M2.3 -15.85L0 -13.5V15.85L2.3 9.85Z","size":4,"filled":true,"opacity":1,"fill":"#C48A1E","stroke":"#4A4A4A","strokeWidth":1.2}}]},
{"transform":[{"filter":"datum.side=='B'"}],"encoding":{"x":{"field":"unit","type":"quantitative","title":null,"scale":{"domain":[0,22],"range":[208.3,550.4],"nice":false,"zero":false},"axis":{"orient":"bottom","values":[0,10,20],"offset":-464,"tickSize":365,"tickOpacity":0,"labelPadding":8,"labelExpr":"'mil'","labelAlign":"left"}},"y":{"field":"year","type":"nominal","title":null,"scale":{"type":"point","padding":0,"range":[331,451]},"axis":{"orient":"left","offset":-177,"labelOffset":{"condition":[{"test":"datum.value=='2012'","value":-3},{"test":"datum.value=='2013'","value":0.5}],"value":-6}}}},"layer":[{"mark":{"type":"point","shape":"M2.3 -15.85H17.85V9.85H2.3ZM2.3 9.85H17.85L15.55 15.85H0Z","size":4,"filled":true,"opacity":1,"stroke":"#4A4A4A","strokeWidth":1.2},"encoding":{"color":{"field":"cat","type":"nominal","legend":null}}},{"transform":[{"filter":"datum.unit==0"}],"mark":{"type":"point","shape":"M2.3 -15.85L0 -13.5V15.85L2.3 9.85Z","size":4,"filled":true,"opacity":1,"fill":"#4E929C","stroke":"#4A4A4A","strokeWidth":1.2}}]}]},
{"width":766,"height":588,"view":{"fill":"white","stroke":null},"title":{"text":"Buxheti i Podujevës","offset":-92.7,"dx":106.9},"data":{"name":"Po"},"transform":[{"stack":"val","groupby":["side","year"],"as":["start","end"]},{"lookup":"side","from":{"data":{"name":"units"},"key":"side","fields":["unit"]}},{"flatten":["unit"]},{"filter":"datum.unit>=datum.start&&datum.unit<datum.end"}],"resolve":{"scale":{"x":"independent","y":"independent"}},"layer":[
{"transform":[{"filter":"datum.side=='S'"}],"encoding":{"x":{"field":"unit","type":"quantitative","title":null,"scale":{"domain":[0,22],"range":[211,553.1],"nice":false,"zero":false},"axis":{"orient":"bottom","values":[0,10,20],"offset":-464,"tickSize":365,"labelPadding":8,"labelFontWeight":"bold","labelAlign":"right"}},"y":{"field":"year","type":"nominal","title":null,"scale":{"type":"point","padding":0,"range":[148,268]},"axis":{"orient":"left","offset":-179,"labelOffset":{"condition":[{"test":"datum.value=='2012'","value":-2},{"test":"datum.value=='2013'","value":1.5}],"value":-5}}}},"layer":[{"mark":{"type":"point","shape":"M2.3 -15.85H17.85V9.85H2.3ZM2.3 9.85H17.85L15.55 15.85H0Z","size":4,"filled":true,"opacity":1,"stroke":"#4A4A4A","strokeWidth":1.2},"encoding":{"color":{"field":"cat","type":"nominal","legend":null}}},{"transform":[{"filter":"datum.unit==0"}],"mark":{"type":"point","shape":"M2.3 -15.85L0 -13.5V15.85L2.3 9.85Z","size":4,"filled":true,"opacity":1,"fill":"#C48A1E","stroke":"#4A4A4A","strokeWidth":1.2}}]},
{"transform":[{"filter":"datum.side=='B'"}],"encoding":{"x":{"field":"unit","type":"quantitative","title":null,"scale":{"domain":[0,22],"range":[211,553.1],"nice":false,"zero":false},"axis":{"orient":"bottom","values":[0,10,20],"offset":-464,"tickSize":365,"tickOpacity":0,"labelPadding":8,"labelExpr":"'mil'","labelAlign":"left"}},"y":{"field":"year","type":"nominal","title":null,"scale":{"type":"point","padding":0,"range":[330,450]},"axis":{"orient":"left","offset":-179,"labelOffset":{"condition":[{"test":"datum.value=='2012'","value":-2},{"test":"datum.value=='2013'","value":1.5}],"value":-5}}}},"layer":[{"mark":{"type":"point","shape":"M2.3 -15.85H17.85V9.85H2.3ZM2.3 9.85H17.85L15.55 15.85H0Z","size":4,"filled":true,"opacity":1,"stroke":"#4A4A4A","strokeWidth":1.2},"encoding":{"color":{"field":"cat","type":"nominal","legend":null}}},{"transform":[{"filter":"datum.unit==0"}],"mark":{"type":"point","shape":"M2.3 -15.85L0 -13.5V15.85L2.3 9.85Z","size":4,"filled":true,"opacity":1,"fill":"#4E929C","stroke":"#4A4A4A","strokeWidth":1.2}}]}]}]}]}
